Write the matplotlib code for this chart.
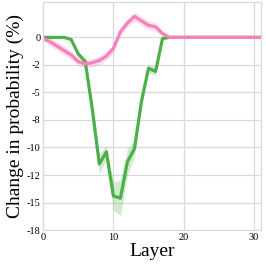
import numpy as np
import matplotlib
matplotlib.use("Agg")
import matplotlib.pyplot as plt
from matplotlib.ticker import FixedLocator, MultipleLocator, FormatStrFormatter

# per-layer change in probability (%), mean and spread
layers = list(range(32))
green_mean = [0, 0, 0, 0, -0.2, -1.5, -2.2, -6.5, -11.5, -10.4, -14.4, -14.6,
              -11.3, -10.1, -5.8, -2.8, -3.1, -0.1] + [0] * 14
green_std = [0, 0, 0, 0, 0.1, 0.2, 0.3, 0.5, 0.9, 0.6, 1.3, 1.6,
             1.2, 0.8, 0.5, 0.4, 0.4, 0.1] + [0] * 14
pink_mean = [-0.1, -0.4, -0.8, -1.2, -1.6, -2.2, -2.4, -2.3, -2.1, -1.7, -1.0, 0.5,
             1.3, 1.9, 1.5, 1.1, 0.95, 0.35, 0.0] + [0] * 13
pink_std = [0.1] + [0.4] * 16 + [0.25, 0.05] + [0] * 13
y_ticks = [0, -2.5, -5, -7.5, -10, -12.5, -15, -17.5]

GREEN = "#4daf4a"
PINK = "#f781bf"

plt.rcParams["font.family"] = ["Liberation Serif", "DejaVu Serif"]

fig = plt.figure(figsize=(2.66, 2.66), dpi=100)
ax = fig.add_axes([0.162, 0.135, 0.819, 0.857])

x = np.array(layers)
for mean, std, color in [(green_mean, green_std, GREEN), (pink_mean, pink_std, PINK)]:
    m = np.array(mean)
    s = np.array(std)
    ax.fill_between(x, m - s, m + s, color=color, alpha=0.25, linewidth=0)
    ax.plot(x, m, color=color, linewidth=2.3)

ax.set_xlim(0, 31)
ax.set_ylim(-17.5, 3.2)
ax.xaxis.set_major_locator(MultipleLocator(10))
ax.yaxis.set_major_locator(FixedLocator(y_ticks))
ax.yaxis.set_major_formatter(FormatStrFormatter("%.0f"))
ax.tick_params(length=0, labelsize=7.5, pad=2)
ax.grid(True, color="#d9d9d9", linewidth=0.9)
ax.set_axisbelow(True)
for sp in ax.spines.values():
    sp.set_color("#d9d9d9")
    sp.set_linewidth(0.9)

ax.set_xlabel("Layer", fontsize=14, labelpad=1)
ax.set_ylabel("Change in probability (%)", fontsize=14, labelpad=2)

fig.savefig("out.png", dpi=100)
